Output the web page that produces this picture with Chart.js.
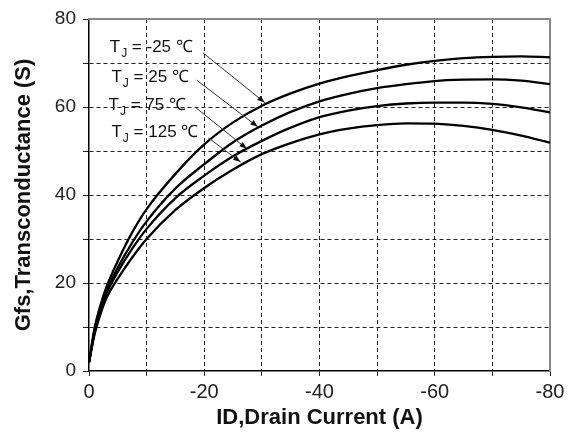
<!DOCTYPE html>
<html>
<head>
<meta charset="utf-8">
<script src="https://cdn.jsdelivr.net/npm/chart.js@4/dist/chart.umd.min.js"></script>
<style>
  html, body { margin: 0; padding: 0; background: #fff; }
  #wrap { width: 573px; height: 433px; position: relative; }
</style>
</head>
<body>
<div id="wrap"><canvas id="gfsChart"></canvas></div>
<script>
// drain current (A) sample points
const drainCurrent = [0, -1, -2, -3, -5, -7.5, -10, -15, -20, -25, -30, -35, -40, -45, -50, -55, -60, -65, -70, -75, -80];

// transconductance (S) per junction temperature
const gfsMinus25 = [2, 10, 15, 19, 25, 31.5, 36.8, 44.8, 51.5, 56.5, 60.3, 63.1, 65.3, 67, 68.4, 69.6, 70.5, 71.1, 71.4, 71.5, 71.3];
const gfs25 = [2, 9.5, 14, 18, 23.5, 29.2, 34, 41.5, 47, 52, 55.8, 58.9, 61.3, 63, 64.3, 65.2, 65.9, 66.2, 66.3, 66, 65.2];
const gfs75 = [2, 9, 13.5, 17.5, 22.5, 27.8, 32.3, 39.3, 44.4, 48.8, 52.3, 55.3, 57.7, 59.2, 60.2, 60.8, 61, 61, 60.7, 59.9, 58.8];
const gfs125 = [2, 8.5, 13, 16.5, 21, 25.8, 30, 36.6, 41.6, 45.8, 49.3, 51.8, 53.8, 55.1, 55.9, 56.3, 56.2, 55.7, 54.8, 53.5, 51.9];

const tempLabels = ['-25', '25', '75', '125'];
const seriesList = [gfsMinus25, gfs25, gfs75, gfs125];

const xTicks = [0, -20, -40, -60, -80];
const yTicks = [0, 20, 40, 60, 80];

const FONT = '"Liberation Sans", Arial, sans-serif';

// where each T_J label sits and where its arrow points (data units)
const labelAnchor = [[-3.6, 72.5], [-3.9, 65.6], [-3.4, 59.3], [-3.9, 53.1]];
const arrowFrom = [[-19.8, 72.3], [-18.7, 66.1], [-18.4, 60], [-20.7, 53]];
const arrowTo = [[-30.5, 61], [-29.3, 55.5], [-27.4, 50.5], [-26.3, 47.5]];

const tjLabels = {
    id: 'tjLabels',
    afterDatasetsDraw(chart) {
        const ctx = chart.ctx;
        const sx = chart.scales.x;
        const sy = chart.scales.y;

        ctx.save();
        ctx.fillStyle = '#111';
        ctx.strokeStyle = '#333';
        ctx.textBaseline = 'alphabetic';

        tempLabels.forEach((t, i) => {
            let px = sx.getPixelForValue(labelAnchor[i][0]);
            const py = sy.getPixelForValue(labelAnchor[i][1]);

            ctx.font = '17px ' + FONT;
            ctx.fillText('T', px, py);
            px += ctx.measureText('T').width;
            ctx.font = '12px ' + FONT;
            ctx.fillText('J', px + 1, py + 5);
            px += ctx.measureText('J').width + 1;
            ctx.font = '17px ' + FONT;
            ctx.fillText(' = ' + t + ' \u2103', px, py);

            const x1 = sx.getPixelForValue(arrowFrom[i][0]);
            const y1 = sy.getPixelForValue(arrowFrom[i][1]);
            const x2 = sx.getPixelForValue(arrowTo[i][0]);
            const y2 = sy.getPixelForValue(arrowTo[i][1]);
            ctx.lineWidth = 1;
            ctx.beginPath();
            ctx.moveTo(x1, y1);
            ctx.lineTo(x2, y2);
            ctx.stroke();

            const ang = Math.atan2(y2 - y1, x2 - x1);
            ctx.beginPath();
            ctx.moveTo(x2, y2);
            ctx.lineTo(x2 - 8 * Math.cos(ang - 0.35), y2 - 8 * Math.sin(ang - 0.35));
            ctx.lineTo(x2 - 8 * Math.cos(ang + 0.35), y2 - 8 * Math.sin(ang + 0.35));
            ctx.closePath();
            ctx.fill();
        });
        ctx.restore();
    }
};

const edgeClear = (edges) => ctx =>
    (ctx.tick && edges.includes(ctx.tick.value)) ? 'rgba(0,0,0,0)' : '#222';

new Chart(document.getElementById('gfsChart'), {
    type: 'line',
    data: {
        datasets: seriesList.map((vals, i) => ({
            label: 'TJ = ' + tempLabels[i],
            data: drainCurrent.map((d, j) => ({x: d, y: vals[j]})),
            borderColor: '#000',
            borderWidth: 2.3,
            pointRadius: 0,
            fill: false,
            cubicInterpolationMode: 'monotone'
        }))
    },
    options: {
        responsive: true,
        maintainAspectRatio: false,
        animation: false,
        layout: { padding: 0 },
        plugins: {
            legend: { display: false },
            tooltip: { enabled: false }
        },
        scales: {
            x: {
                type: 'linear',
                position: 'bottom',
                min: -80,
                max: 0,
                reverse: true,
                afterBuildTicks: s => { s.ticks = [0, -10, -20, -30, -40, -50, -60, -70, -80].map(v => ({value: v})); },
                ticks: {
                    autoSkip: false,
                    maxRotation: 0,
                    padding: 4,
                    color: '#222',
                    font: { family: FONT, size: 20 },
                    callback: v => xTicks.includes(v) ? String(v) : ''
                },
                grid: {
                    color: edgeClear([0, -80]),
                    tickColor: '#222',
                    tickLength: 5,
                    lineWidth: 1
                },
                border: { color: '#000', width: 1.5, dash: [4, 3] },
                title: {
                    display: true,
                    text: 'ID,Drain Current (A)',
                    color: '#111',
                    font: { family: FONT, size: 22, weight: 'bold' },
                    padding: { top: 0, bottom: 2 }
                },
                afterFit: s => { s.height = 62; }
            },
            y: {
                type: 'linear',
                position: 'left',
                min: 0,
                max: 80,
                afterBuildTicks: s => { s.ticks = [0, 10, 20, 30, 40, 50, 60, 70, 80].map(v => ({value: v})); },
                ticks: {
                    autoSkip: false,
                    padding: 7,
                    color: '#222',
                    font: { family: FONT, size: 19 },
                    callback: v => yTicks.includes(v) ? String(v) : ''
                },
                grid: {
                    color: edgeClear([0, 80]),
                    tickColor: '#222',
                    tickLength: 6,
                    lineWidth: 1
                },
                border: { color: '#000', width: 1.5, dash: [4, 3] },
                title: {
                    display: true,
                    text: 'Gfs,Transconductance (S)',
                    color: '#111',
                    font: { family: FONT, size: 22, weight: 'bold' },
                    padding: { top: 11, bottom: 0 }
                },
                afterFit: s => { s.width = 89; }
            },
            xTop: {
                type: 'linear',
                position: 'top',
                min: -80,
                max: 0,
                reverse: true,
                ticks: { display: false },
                grid: { display: false },
                border: { color: '#888', width: 2 },
                afterFit: s => { s.height = 19; }
            },
            yRight: {
                type: 'linear',
                position: 'right',
                min: 0,
                max: 80,
                ticks: { display: false },
                grid: { display: false },
                border: { color: '#888', width: 2 },
                afterFit: s => { s.width = 23; }
            }
        }
    },
    plugins: [tjLabels]
});
</script>
</body>
</html>
